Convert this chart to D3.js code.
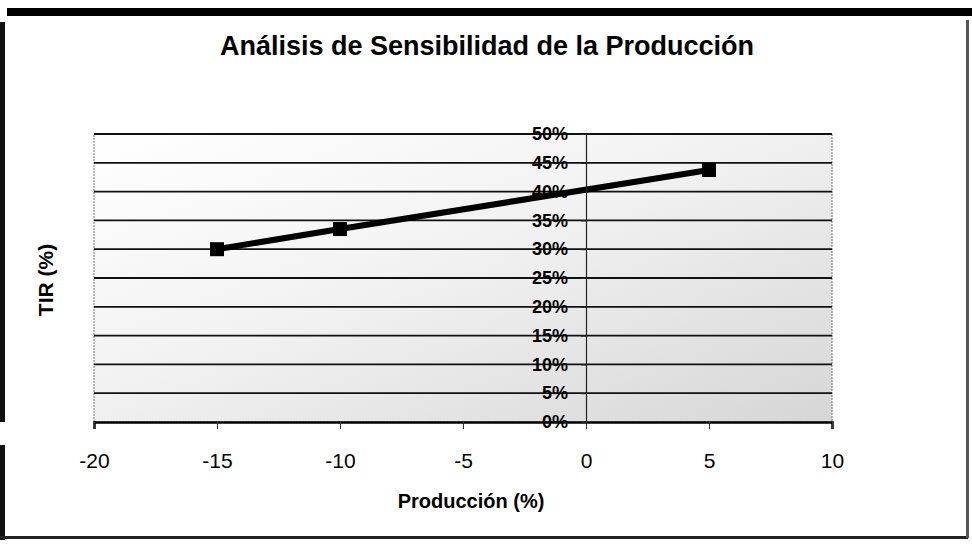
<!DOCTYPE html>
<html>
<head>
<meta charset="utf-8">
<script src="https://cdn.jsdelivr.net/npm/d3@7"></script>
<style>
  body { margin: 0; background: #fff; }
  svg { display: block; font-family: "Liberation Sans", Arial, sans-serif; }
</style>
</head>
<body>
<svg width="972" height="547"></svg>
<script>
// data
var produccion = [-15, -10, 5];
var tir = [0.30, 0.335, 0.4375];
var xTicks = [-20, -15, -10, -5, 0, 5, 10];
var yTicks = [0, 0.05, 0.10, 0.15, 0.20, 0.25, 0.30, 0.35, 0.40, 0.45, 0.50];

var formatPercent = d3.format(".0%");

function main() {
    var svg = d3.select("svg");

    var left = 94, right = 832, top = 134, bottom = 422;

    var xScale = d3.scaleLinear().domain([-20, 10]).range([left, right]),
        yScale = d3.scaleLinear().domain([0, 0.5]).range([bottom, top]);

    // outer frame (scanned page borders)
    svg.append("rect").attr("x", 7).attr("y", 8).attr("width", 965).attr("height", 8).attr("fill", "#000");
    svg.append("rect").attr("x", 0).attr("y", 22).attr("width", 5).attr("height", 400).attr("fill", "#111");
    svg.append("rect").attr("x", 0).attr("y", 445).attr("width", 5).attr("height", 95).attr("fill", "#111");
    svg.append("rect").attr("x", 0).attr("y", 536).attr("width", 968).attr("height", 3).attr("fill", "#222");
    svg.append("rect").attr("x", 966).attr("y", 20).attr("width", 3).attr("height", 518).attr("fill", "#555");

    // plot area shading
    var defs = svg.append("defs");
    var grad = defs.append("linearGradient")
        .attr("id", "shade")
        .attr("x1", "0%").attr("y1", "0%")
        .attr("x2", "100%").attr("y2", "100%");
    grad.append("stop").attr("offset", "0%").attr("stop-color", "#ffffff");
    grad.append("stop").attr("offset", "45%").attr("stop-color", "#f2f2f2");
    grad.append("stop").attr("offset", "100%").attr("stop-color", "#d6d6d6");

    svg.append("rect")
        .attr("x", left).attr("y", top)
        .attr("width", right - left).attr("height", bottom - top)
        .attr("fill", "url(#shade)")
        .attr("stroke", "#777")
        .attr("stroke-width", 1)
        .attr("stroke-dasharray", "2,1");

    // horizontal gridlines
    var g = svg.append("g");
    g.selectAll(".grid")
        .data(yTicks.slice(1))
        .enter().append("line")
        .attr("class", "grid")
        .attr("x1", left).attr("x2", right)
        .attr("y1", function(d) { return yScale(d); })
        .attr("y2", function(d) { return yScale(d); })
        .attr("stroke", "#111")
        .attr("stroke-width", 1.8);

    // x axis
    var xaxis = g.append("g")
        .attr("id", "x-axis")
        .attr("transform", "translate(0," + bottom + ")")
        .call(d3.axisBottom(xScale).tickValues(xTicks).tickSize(7).tickPadding(24).tickFormat(d3.format("d")));
    xaxis.select(".domain").attr("stroke", "#000").attr("stroke-width", 2.5);
    xaxis.selectAll(".tick line").attr("stroke", "#333");
    xaxis.selectAll("text")
        .attr("font-size", "21px")
        .attr("fill", "#000")
        .attr("font-family", "'Liberation Sans', Arial, sans-serif")
        .text(function(d) { return d < 0 ? "-" + Math.abs(d) : d; });

    // y axis on x = 0
    var yaxis = g.append("g")
        .attr("id", "y-axis")
        .attr("transform", "translate(" + xScale(0) + ",0)")
        .call(d3.axisLeft(yScale).tickValues(yTicks).tickSize(5).tickPadding(13).tickFormat(formatPercent));
    yaxis.select(".domain").attr("stroke", "#222").attr("stroke-width", 1.2);
    yaxis.selectAll(".tick line").attr("stroke", "#222");

    // line
    var points = produccion.map(function(d, i) { return [d, tir[i]]; });
    var line = d3.line()
        .x(function(d) { return xScale(d[0]); })
        .y(function(d) { return yScale(d[1]); });

    g.append("path")
        .datum(points)
        .attr("d", line)
        .attr("fill", "none")
        .attr("stroke", "#000")
        .attr("stroke-width", 6);

    g.selectAll(".marker")
        .data(points)
        .enter().append("rect")
        .attr("class", "marker")
        .attr("x", function(d) { return xScale(d[0]) - 7; })
        .attr("y", function(d) { return yScale(d[1]) - 7; })
        .attr("width", 14)
        .attr("height", 14)
        .attr("fill", "#000");

    // y tick labels drawn above the line
    yaxis.raise();
    yaxis.selectAll("text")
        .attr("font-size", "18px")
        .attr("font-weight", "bold")
        .attr("fill", "#000")
        .attr("font-family", "'Liberation Sans', Arial, sans-serif");

    // titles
    svg.append("text")
        .attr("x", 487).attr("y", 55)
        .attr("text-anchor", "middle")
        .attr("font-size", "27px")
        .attr("font-weight", "bold")
        .text("Análisis de Sensibilidad de la Producción");

    svg.append("text")
        .attr("x", 471).attr("y", 508)
        .attr("text-anchor", "middle")
        .attr("font-size", "20px")
        .attr("font-weight", "bold")
        .text("Producción (%)");

    svg.append("text")
        .attr("transform", "translate(53,280) rotate(-90)")
        .attr("text-anchor", "middle")
        .attr("font-size", "21px")
        .attr("font-weight", "bold")
        .text("TIR (%)");
}

main();
</script>
</body>
</html>
